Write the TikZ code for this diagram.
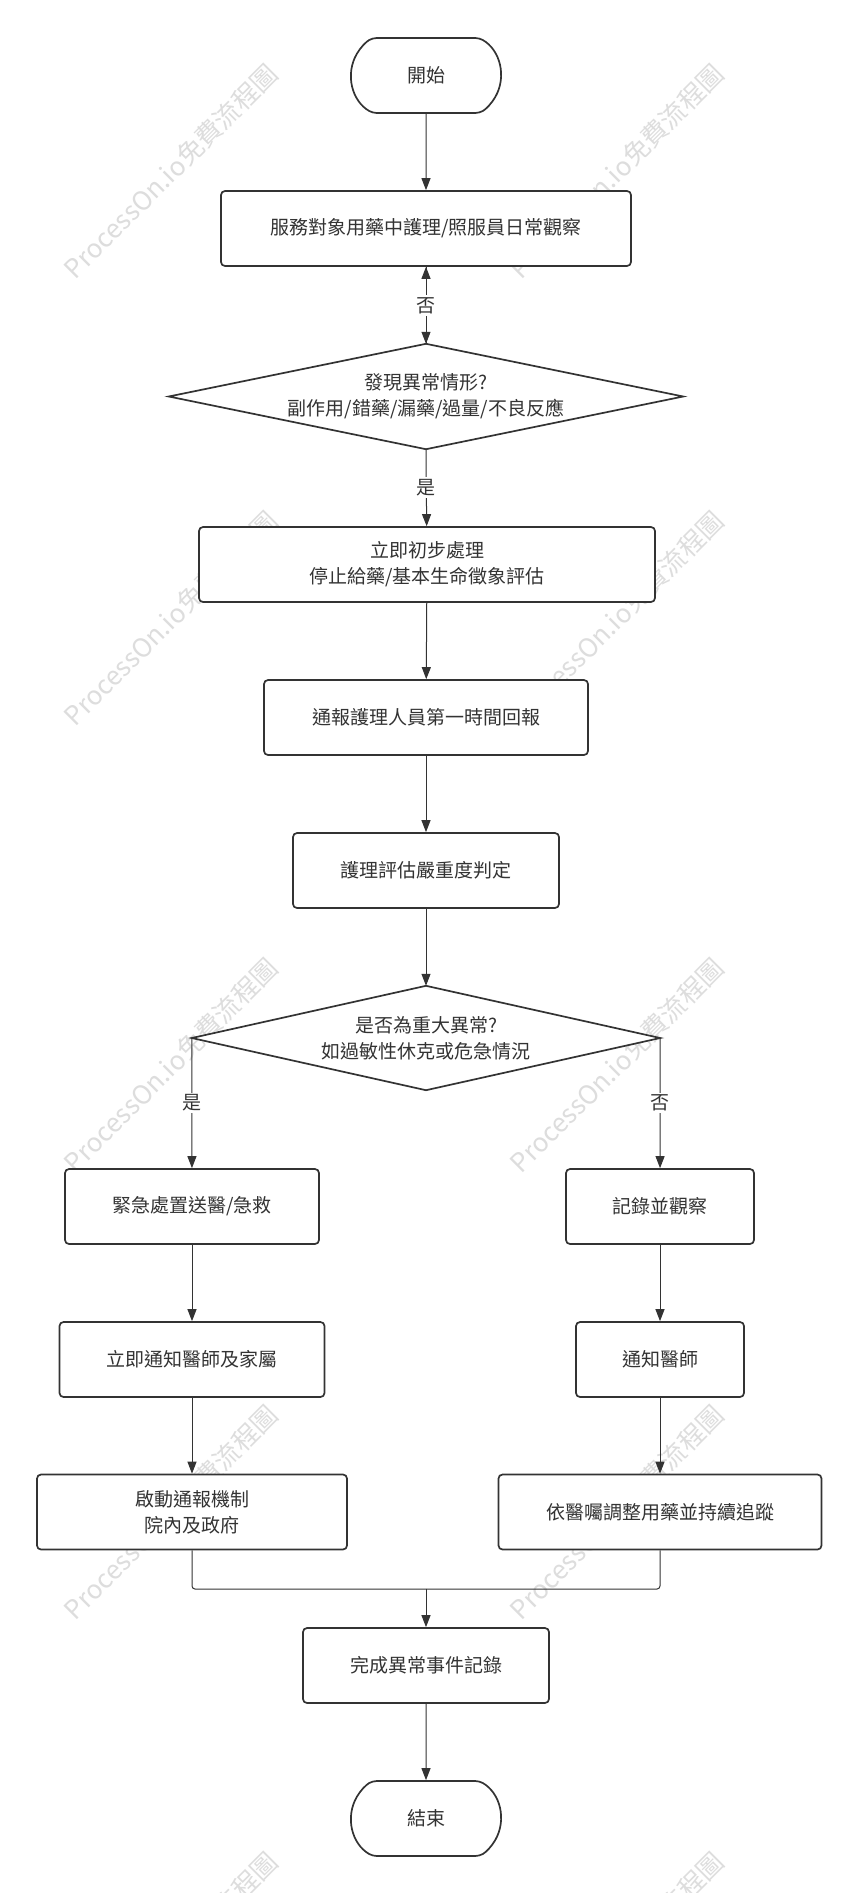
\documentclass[tikz,border=0pt]{standalone}
\usepackage{fontspec}
\setmainfont{Noto Sans CJK TC}
\usetikzlibrary{arrows.meta,shapes.misc}
\definecolor{linec}{HTML}{333333}
\definecolor{txtc}{HTML}{333333}
\definecolor{wmc}{HTML}{DDDDDD}
\tikzset{
  box/.style={draw=linec, line width=1.7pt, rounded corners=4pt, fill=white, text=txtc,
    align=center, inner sep=0pt, minimum height=75pt, font=\fontsize{19}{26}\selectfont},
  term/.style={box, rounded rectangle, rounded rectangle arc length=120, minimum width=150pt},
  dtext/.style={inner sep=0pt, text=txtc, align=center, font=\fontsize{19}{26}\selectfont},
  conn/.style={draw=linec, line width=1pt},
  arr/.style={conn, -{Triangle[length=12pt,width=9pt]}},
  lbl/.style={fill=white, text=txtc, inner sep=2pt, font=\fontsize{19}{22}\selectfont},
  wm/.style={text=wmc, rotate=45, font=\fontsize{26}{26}\selectfont, inner sep=0pt},
}
\begin{document}
\begin{tikzpicture}[x=1pt, y=-1pt]
\fill[white] (0,0) rectangle (859,1893);
\useasboundingbox (0,0) rectangle (859,1893);
% watermarks
\begin{scope}
\clip (0,0) rectangle (859,1893);
\foreach \wy in {171,618,1065,1512,1959}{
  \node[wm] (wl\wy) at (171,\wy) {ProcessOn.io免費流程圖};
  \node[wm] (wr\wy) at (617,\wy) {ProcessOn.io免費流程圖};
}
\end{scope}
% nodes
\node[term] (start) at (426,75.5) {開始};
\node[box, minimum width=410pt] (b1) at (426,228.5) {服務對象用藥中護理/照服員日常觀察};
\node[dtext, minimum width=514pt, minimum height=105pt] (d1) at (426,396.5) {發現異常情形?\\副作用/錯藥/漏藥/過量/不良反應};
\draw[linec, line width=1.7pt, fill=white] (d1.north) -- (d1.east) -- (d1.south) -- (d1.west) -- cycle;
\node[dtext] at (d1.center) {發現異常情形?\\副作用/錯藥/漏藥/過量/不良反應};
\node[box, minimum width=456pt] (b2) at (427,564.5) {立即初步處理\\停止給藥/基本生命徵象評估};
\node[box, minimum width=324pt] (b3) at (426,717.5) {通報護理人員第一時間回報};
\node[box, minimum width=266pt] (b4) at (426,870.5) {護理評估嚴重度判定};
\node[dtext, minimum width=468pt, minimum height=104pt] (d2) at (426,1038) {是否為重大異常?\\如過敏性休克或危急情況};
\draw[linec, line width=1.7pt, fill=white] (d2.north) -- (d2.east) -- (d2.south) -- (d2.west) -- cycle;
\node[dtext] at (d2.center) {是否為重大異常?\\如過敏性休克或危急情況};
\node[box, minimum width=254pt] (l1) at (192,1206.5) {緊急處置送醫/急救};
\node[box, minimum width=265pt] (l2) at (192,1359.5) {立即通知醫師及家屬};
\node[box, minimum width=310pt] (l3) at (192,1512) {啟動通報機制\\院內及政府};
\node[box, minimum width=188pt] (r1) at (660,1206.5) {記錄並觀察};
\node[box, minimum width=168pt] (r2) at (660,1359.5) {通知醫師};
\node[box, minimum width=323pt] (r3) at (660,1512) {依醫囑調整用藥並持續追蹤};
\node[box, minimum width=246pt] (fin) at (426,1665.5) {完成異常事件記錄};
\node[term] (end) at (426,1818.5) {結束};
\coordinate (m) at (426,1589);
% connectors
\draw[arr] (start) -- (b1);
\draw[arr] (b1) -- (d1.north);
\draw[arr] (d1.north) -- node[lbl] {否} (b1);
\draw[arr] (d1.south) -- node[lbl] {是} (b2);
\draw[arr] (b2) -- (b3);
\draw[arr] (b3) -- (b4);
\draw[arr] (b4) -- (d2.north);
\draw[arr] (d2.west) -- node[lbl] {是} (l1);
\draw[arr] (d2.east) -- node[lbl] {否} (r1);
\draw[arr] (l1) -- (l2);
\draw[arr] (l2) -- (l3);
\draw[arr] (r1) -- (r2);
\draw[arr] (r2) -- (r3);
\draw[conn, rounded corners=3pt] (l3.south) |- (m);
\draw[conn, rounded corners=3pt] (r3.south) |- (m);
\draw[arr] (m) -- (fin);
\draw[arr] (fin) -- (end);
\end{tikzpicture}
\end{document}
